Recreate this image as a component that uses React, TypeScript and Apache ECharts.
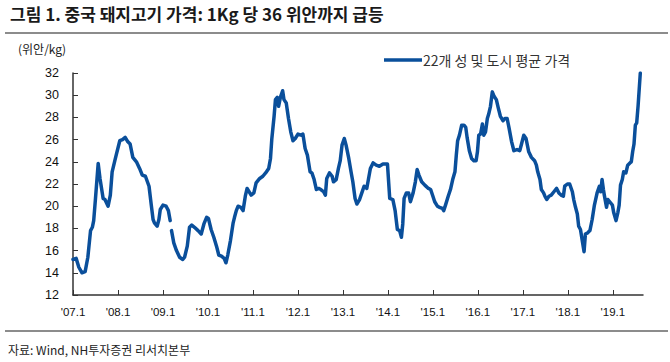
import React, { useEffect, useRef } from "react";
import * as echarts from "echarts";

const titleText = "그림 1. 중국 돼지고기 가격: 1Kg 당 36 위안까지 급등";
const unitText = "(위안/kg)";
const sourceText = "자료: Wind, NH투자증권 리서치본부";
const seriesName = "22개 성 및 도시 평균 가격";

const xTickYears = [2007, 2008, 2009, 2010, 2011, 2012, 2013, 2014, 2015, 2016, 2017, 2018, 2019];
const xMin = 2007;
const xMax = 2019.67;
const yMin = 12;
const yMax = 32;
const yStep = 2;

// decimal year of each observation
const years = [
  2007.0, 2007.07, 2007.13, 2007.2, 2007.27, 2007.33, 2007.39, 2007.43, 2007.46, 2007.5,
  2007.56, 2007.6, 2007.67, 2007.71, 2007.78, 2007.83, 2007.87, 2007.93, 2007.96, 2008.04,
  2008.1, 2008.16, 2008.22, 2008.27, 2008.33, 2008.41, 2008.48, 2008.54, 2008.61, 2008.69,
  2008.74, 2008.78, 2008.81, 2008.87, 2008.91, 2008.94, 2009.0, 2009.07, 2009.12, 2009.16,
  2009.175, 2009.19, 2009.24, 2009.3, 2009.37, 2009.44, 2009.48, 2009.54, 2009.59, 2009.64,
  2009.7, 2009.78, 2009.85, 2009.91, 2009.97, 2010.01, 2010.07, 2010.13, 2010.19, 2010.24,
  2010.3, 2010.36, 2010.4, 2010.44, 2010.5, 2010.56, 2010.59, 2010.63, 2010.67, 2010.73,
  2010.78, 2010.83, 2010.87, 2010.93, 2010.96, 2011.02, 2011.07, 2011.15, 2011.22, 2011.3,
  2011.35, 2011.39, 2011.42, 2011.47, 2011.5, 2011.54, 2011.57, 2011.61, 2011.66, 2011.69,
  2011.74, 2011.79, 2011.84, 2011.89, 2011.94, 2012.0, 2012.07, 2012.11, 2012.16, 2012.21,
  2012.27, 2012.31, 2012.36, 2012.41, 2012.46, 2012.51, 2012.57, 2012.61, 2012.64, 2012.7,
  2012.76, 2012.79, 2012.85, 2012.9, 2012.94, 2012.98, 2013.03, 2013.07, 2013.13, 2013.18,
  2013.22, 2013.27, 2013.31, 2013.37, 2013.42, 2013.47, 2013.53, 2013.57, 2013.61, 2013.67,
  2013.74, 2013.81, 2013.89, 2013.99, 2014.04, 2014.11, 2014.16, 2014.21, 2014.26, 2014.3,
  2014.33, 2014.36, 2014.41, 2014.46, 2014.5, 2014.56, 2014.61, 2014.65, 2014.69, 2014.75,
  2014.82, 2014.9, 2014.95, 2015.0, 2015.04, 2015.1, 2015.15, 2015.21, 2015.24, 2015.28,
  2015.34, 2015.39, 2015.44, 2015.49, 2015.52, 2015.55, 2015.59, 2015.64, 2015.69, 2015.73,
  2015.76, 2015.81, 2015.86, 2015.91, 2015.96, 2015.99, 2016.02, 2016.06, 2016.1, 2016.13,
  2016.17, 2016.21, 2016.24, 2016.28, 2016.32, 2016.36, 2016.41, 2016.45, 2016.5, 2016.56,
  2016.6, 2016.65, 2016.69, 2016.75, 2016.8, 2016.87, 2016.93, 2016.97, 2017.02, 2017.07,
  2017.13, 2017.19, 2017.26, 2017.3, 2017.33, 2017.38, 2017.41, 2017.46, 2017.49, 2017.53,
  2017.58, 2017.63, 2017.69, 2017.75, 2017.8, 2017.85, 2017.9, 2017.93, 2017.99, 2018.04,
  2018.1, 2018.13, 2018.17, 2018.21, 2018.24, 2018.28, 2018.32, 2018.36, 2018.39, 2018.44,
  2018.49, 2018.54, 2018.59, 2018.65, 2018.7, 2018.73, 2018.76, 2018.79, 2018.81, 2018.86,
  2018.89, 2018.93, 2018.99, 2019.02, 2019.07, 2019.11, 2019.14, 2019.17, 2019.21, 2019.24,
  2019.29, 2019.33, 2019.38, 2019.41, 2019.44, 2019.47, 2019.5, 2019.53, 2019.56, 2019.61,
];

// 위안/kg (null = gap in the data)
const prices: (number | null)[] = [
  15.2, 15.3, 14.5, 14.0, 14.1, 15.4, 17.8, 18.1, 18.7, 20.7,
  23.85, 22.5, 20.7, 20.6, 20.0, 21.0, 23.1, 24.1, 24.6, 25.9,
  26.0, 26.2, 25.8, 25.6, 24.4, 24.0, 23.4, 22.8, 22.7, 21.8,
  20.1, 18.8, 18.5, 18.2, 18.8, 19.7, 20.1, 20.0, 19.6, 18.7,
  null, 17.8, 16.7, 16.0, 15.4, 15.2, 15.4, 16.4, 18.1, 18.3,
  18.1, 17.8, 17.5, 18.4, 19.0, 18.9, 17.9, 17.2, 16.4, 15.6,
  15.5, 15.3, 14.9, 15.6, 16.9, 18.5, 19.0, 19.6, 20.0, 19.9,
  19.6, 20.9, 21.6, 21.2, 21.0, 21.2, 22.1, 22.5, 22.7, 23.1,
  23.4, 24.3, 26.1, 28.1, 29.6, 29.8, 29.0, 29.8, 30.4, 29.6,
  29.3, 27.9, 26.7, 25.9, 26.1, 26.5, 26.4, 26.5, 25.2, 24.6,
  23.1, 23.0, 22.4, 21.5, 21.6, 21.5, 21.3, 21.0, 22.5, 23.0,
  22.7, 22.2, 22.4, 23.4, 24.1, 25.5, 26.1, 25.5, 24.3, 23.1,
  22.2, 20.7, 20.2, 20.6, 21.2, 21.8, 21.6, 22.5, 23.4, 23.9,
  23.7, 23.6, 23.8, 23.8, 20.7, 20.6, 19.6, 17.9, 17.8, 17.2,
  18.4, 20.7, 21.2, 21.2, 20.4, 21.2, 22.2, 23.3, 22.8, 22.2,
  21.9, 21.6, 21.5, 20.9, 20.4, 20.0, 19.9, 19.8, 19.6, 20.1,
  20.9, 21.5, 22.4, 23.1, 24.6, 25.9, 26.4, 27.3, 27.3, 27.1,
  26.2, 25.0, 24.3, 24.1, 24.1, 24.9, 26.4, 26.5, 27.4, 26.4,
  26.7, 27.9, 28.3, 29.0, 30.3, 29.9, 29.6, 28.9, 28.1, 27.7,
  27.9, 27.9, 27.1, 25.8, 25.0, 25.1, 25.0, 25.6, 26.4, 26.1,
  24.9, 24.4, 24.1, 23.7, 23.1, 22.4, 21.5, 21.2, 20.9, 20.6,
  20.9, 21.0, 21.3, 21.6, 21.2, 21.0, 20.9, 21.8, 22.0, 22.0,
  21.3, 20.6, 19.9, 19.3, 18.2, 17.9, 16.9, 15.9, 17.5, 17.6,
  17.8, 18.8, 20.1, 21.2, 21.8, 21.3, 22.4, 21.5, 21.0, 19.9,
  20.6, 20.4, 20.1, 19.4, 18.7, 19.4, 20.1, 21.9, 22.4, 23.1,
  23.0, 23.7, 23.9, 24.0, 24.9, 25.6, 27.3, 27.5, 29.0, 32.0,
];

const NARROW = "'Liberation Sans Narrow', 'Liberation Sans', 'Noto Sans CJK KR', sans-serif";
const KR = "'Liberation Sans Narrow', 'Noto Sans CJK KR', sans-serif";
const LINE_COLOR = "#0a4f9b";

export default function App() {
  const ref = useRef<HTMLDivElement>(null);
  useEffect(() => {
    if (!ref.current) return;
    const chart = echarts.init(ref.current, undefined, { renderer: "svg" });
    const data = years.map((y, i) => [y, prices[i] === null ? "-" : prices[i]]);
    chart.setOption({
      animation: false,
      backgroundColor: "#ffffff",
      grid: { left: 73, right: 27, top: 73, bottom: 67 },
      xAxis: {
        type: "value",
        min: xMin,
        max: xMax,
        interval: 1,
        splitLine: { show: false },
        axisLine: { show: true, lineStyle: { color: "#333", width: 1.5 } },
        axisTick: { show: true, inside: true, length: 5, customValues: xTickYears, lineStyle: { color: "#333" } },
        axisLabel: {
          customValues: xTickYears,
          margin: 11,
          fontFamily: NARROW,
          fontSize: 11.5,
          color: "#111",
          formatter: (v: number) => "'" + String(Math.round(v)).slice(2) + ".1",
        },
      },
      yAxis: {
        type: "value",
        min: yMin,
        max: yMax,
        interval: yStep,
        splitLine: { show: false },
        axisLine: { show: true, lineStyle: { color: "#333", width: 1.5 } },
        axisTick: { show: true, inside: true, length: 5, lineStyle: { color: "#333" } },
        axisLabel: { margin: 14, fontFamily: NARROW, fontSize: 12.5, color: "#111" },
      },
      series: [
        {
          name: seriesName,
          type: "line",
          data,
          showSymbol: false,
          symbol: "none",
          connectNulls: false,
          clip: true,
          color: LINE_COLOR,
          lineStyle: { color: LINE_COLOR, width: 3.5, join: "round", cap: "round" },
        },
      ],
      graphic: [
        {
          type: "text",
          left: 10,
          top: 5,
          style: { text: titleText, fontFamily: KR, fontSize: 17, fontWeight: "bold", fill: "#1a1a1a" },
        },
        {
          type: "line",
          shape: { x1: 5, y1: 33, x2: 668, y2: 33 },
          style: { stroke: "#8c8c8c", lineWidth: 2 },
        },
        {
          type: "text",
          left: 18,
          top: 42,
          style: { text: unitText, fontFamily: KR, fontSize: 12, fill: "#222" },
        },
        {
          type: "rect",
          shape: { x: 384, y: 58.2, width: 38, height: 3.6 },
          style: { fill: LINE_COLOR },
        },
        {
          type: "text",
          x: 423,
          y: 60,
          style: {
            text: seriesName,
            fontFamily: KR,
            fontSize: 14,
            fill: "#333",
            verticalAlign: "middle",
            align: "left",
          },
        },
        {
          type: "line",
          shape: { x1: 5, y1: 331, x2: 668, y2: 331 },
          style: { stroke: "#8c8c8c", lineWidth: 2 },
        },
        {
          type: "text",
          left: 8,
          top: 343,
          style: { text: sourceText, fontFamily: KR, fontSize: 12, fill: "#222" },
        },
      ],
    });
    return () => chart.dispose();
  }, []);
  return (
    <div
      ref={ref}
      style={{ position: "fixed", left: 0, top: 0, width: 670, height: 362, background: "#fff" }}
    />
  );
}
